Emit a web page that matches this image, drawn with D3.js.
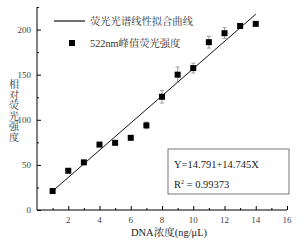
<!DOCTYPE html>
<html>
<head>
<meta charset="utf-8">
<script src="https://cdn.jsdelivr.net/npm/d3@7"></script>
<style>
  body { margin: 0; background: #fff; }
  text { font-family: "Liberation Serif", "Noto Serif CJK SC", "Noto Sans CJK SC", serif; }
</style>
</head>
<body>
<div id="chart"></div>
<script>
// data
var conc = [1, 2, 3, 4, 5, 6, 7, 8, 9, 10, 11, 12, 13, 14];
var intensity = [21, 43.5, 52.8, 72.5, 74.5, 80, 93.8, 125.5, 150, 157.3, 186, 196, 204, 206.3];
var errs = [0, 0, 0, 0, 0, 0, 3.7, 7, 8.5, 5.5, 6.5, 6, 2, 0];
var fitX = [1, 14];
var fitY = [21, 217];
var xTicks = [2, 4, 6, 8, 10, 12, 14, 16];
var yTicks = [0, 50, 100, 150, 200];

var width = 302, height = 246;
var svg = d3.select("#chart").append("svg").attr("width", width).attr("height", height);

// scales
var xScale = d3.scaleLinear().domain([0, 16]).range([37, 287]);
var yScale = d3.scaleLinear().domain([0, 225]).range([210, 7]);

// x axis, ticks pointing inward
var xAxis = svg.append("g")
  .attr("transform", "translate(0," + yScale(0) + ")")
  .call(d3.axisTop(xScale).tickValues(d3.range(1, 17)).tickSize(2).tickFormat(""));
xAxis.selectAll(".tick line").attr("y2", function(d) { return d % 2 === 0 ? -4 : -2; });
xAxis.select(".domain").attr("d", "M" + xScale(0) + ",0H" + xScale(16));
svg.append("g").selectAll("text").data(xTicks).join("text")
  .attr("x", function(d) { return xScale(d); })
  .attr("y", 223)
  .attr("text-anchor", "middle")
  .attr("font-size", 9)
  .attr("fill", "#444")
  .text(function(d) { return d; });

// y axis, ticks pointing inward
var yAxis = svg.append("g")
  .attr("transform", "translate(" + xScale(0) + ",0)")
  .call(d3.axisRight(yScale).tickValues(d3.range(0, 226, 25)).tickFormat(""));
yAxis.selectAll(".tick line").attr("x2", function(d) { return d % 50 === 0 ? 4 : 2; });
yAxis.select(".domain").attr("d", "M0," + yScale(0) + "V" + yScale(225));
svg.append("g").selectAll("text").data(yTicks).join("text")
  .attr("x", 31)
  .attr("y", function(d) { return yScale(d) + 3; })
  .attr("text-anchor", "end")
  .attr("font-size", 9)
  .attr("fill", "#444")
  .text(function(d) { return d; });

// axis titles
svg.append("text")
  .attr("x", 169).attr("y", 236)
  .attr("text-anchor", "middle")
  .attr("font-size", 10.5)
  .attr("fill", "#222")
  .text("DNA浓度(ng/μL)");

var yTitle = "相对荧光强度".split("");
svg.append("g").selectAll("text").data(yTitle).join("text")
  .attr("x", 14)
  .attr("y", function(d, i) { return 88 + i * 10.6; })
  .attr("text-anchor", "middle")
  .attr("font-size", 10)
  .attr("fill", "#333")
  .text(function(d) { return d; });

// fitted line
svg.append("path")
  .datum(d3.zip(fitX, fitY))
  .attr("fill", "none")
  .attr("stroke", "#111")
  .attr("stroke-width", 1)
  .attr("d", d3.line()
    .x(function(d) { return xScale(d[0]); })
    .y(function(d) { return yScale(d[1]); }));

// error bars
var pts = d3.zip(conc, intensity, errs).filter(function(d) { return d[2] > 0; });
var eb = svg.append("g").attr("stroke", "#888").attr("stroke-width", 0.8);
eb.selectAll(".v").data(pts).join("line")
  .attr("x1", function(d) { return xScale(d[0]); })
  .attr("x2", function(d) { return xScale(d[0]); })
  .attr("y1", function(d) { return yScale(d[1] - d[2]); })
  .attr("y2", function(d) { return yScale(d[1] + d[2]); });
[-1, 1].forEach(function(s) {
  eb.append("g").selectAll("line").data(pts).join("line")
    .attr("x1", function(d) { return xScale(d[0]) - 2; })
    .attr("x2", function(d) { return xScale(d[0]) + 2; })
    .attr("y1", function(d) { return yScale(d[1] + s * d[2]); })
    .attr("y2", function(d) { return yScale(d[1] + s * d[2]); });
});

// square markers
svg.append("g").selectAll("rect").data(d3.zip(conc, intensity)).join("rect")
  .attr("x", function(d) { return xScale(d[0]) - 3; })
  .attr("y", function(d) { return yScale(d[1]) - 3; })
  .attr("width", 6).attr("height", 6)
  .attr("fill", "#000");

// legend
svg.append("line")
  .attr("x1", 54).attr("x2", 85).attr("y1", 21).attr("y2", 21)
  .attr("stroke", "#111").attr("stroke-width", 1.2);
svg.append("text").attr("x", 90).attr("y", 25).attr("font-size", 10.3).attr("fill", "#333")
  .text("荧光光谱线性拟合曲线");
svg.append("rect").attr("x", 69).attr("y", 40).attr("width", 6).attr("height", 6).attr("fill", "#000");
svg.append("text").attr("x", 90).attr("y", 47).attr("font-size", 10.3).attr("fill", "#333")
  .text("522nm峰值荧光强度");

// equation box
svg.append("rect")
  .attr("x", 168).attr("y", 149).attr("width", 121).attr("height", 45)
  .attr("fill", "#fff").attr("stroke", "#555").attr("stroke-width", 0.8);
svg.append("text").attr("x", 174).attr("y", 168).attr("font-size", 10.5).attr("fill", "#222")
  .text("Y=14.791+14.745X");
var r2 = svg.append("text").attr("x", 174).attr("y", 188).attr("font-size", 10.5).attr("fill", "#222");
r2.append("tspan").text("R");
r2.append("tspan").attr("dy", -4).attr("font-size", 6).text("2");
r2.append("tspan").attr("dy", 4).text(" = 0.99373");
</script>
</body>
</html>
